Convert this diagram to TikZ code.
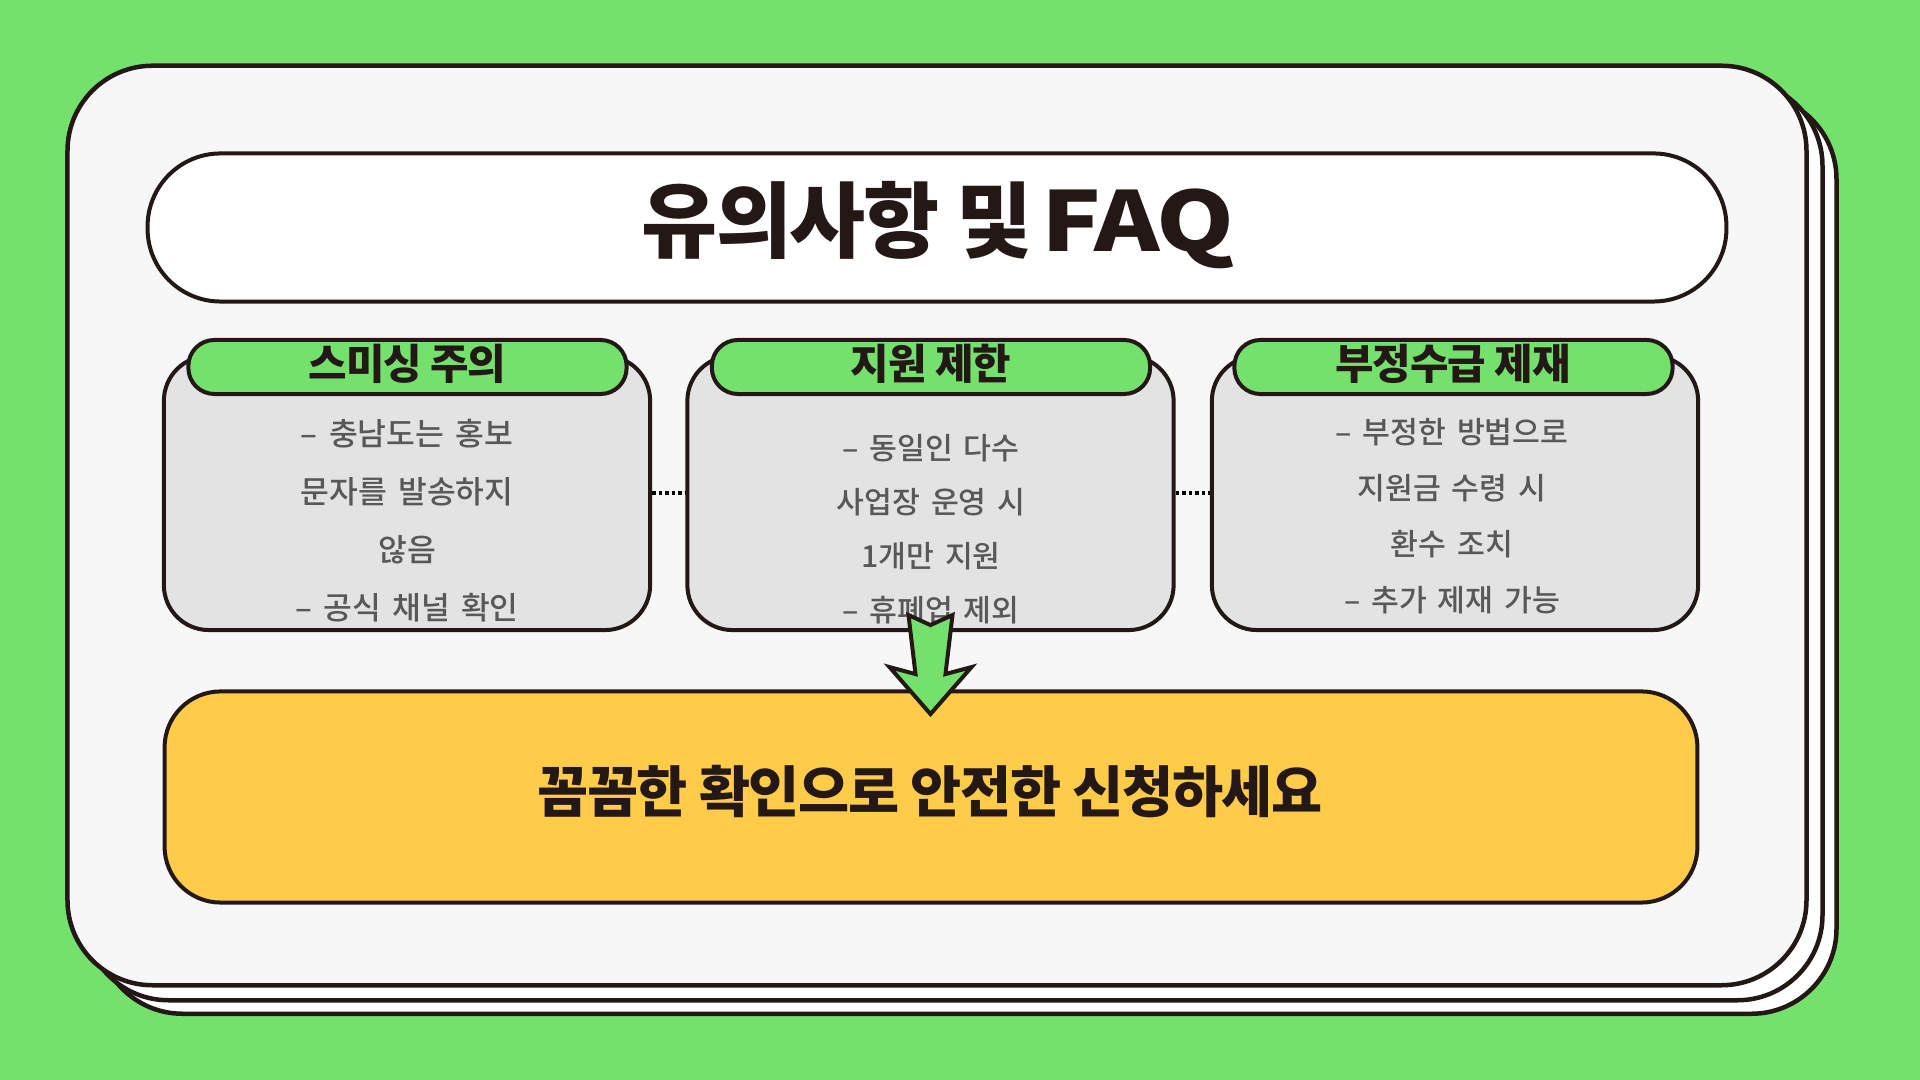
\documentclass[tikz,border=0pt]{standalone}
\usepackage{fontspec}
\usepackage{graphicx}
\usetikzlibrary{calc}
\newfontfamily\krbody[WordSpace=1.6]{Noto Sans CJK KR Medium}
\newfontfamily\krtitle[LetterSpace=-2.5]{Noto Sans CJK KR Black}
\definecolor{bggreen}{HTML}{75E16D}
\definecolor{inkdark}{HTML}{231815}
\definecolor{inkgray}{HTML}{595757}
\definecolor{cardgray}{HTML}{F7F7F7}
\definecolor{boxgray}{HTML}{E3E3E3}
\definecolor{noteyellow}{HTML}{FFCC4A}

\begin{document}
\begin{tikzpicture}[x=0.01cm,y=-0.01cm,
    sheet/.style={draw=inkdark,line width=0.045cm,rounded corners=0.85cm,inner sep=0pt,fill=white},
    boxbody/.style={draw=inkdark,line width=0.04cm,rounded corners=0.45cm,inner sep=0pt,fill=boxgray,
      minimum width=4.86cm,minimum height=2.74cm},
    boxtab/.style={draw=inkdark,line width=0.04cm,rounded corners=0.26cm,inner sep=0pt,fill=bggreen,
      minimum width=4.38cm,minimum height=0.54cm},
    tabtext/.style={text=inkdark,inner sep=0pt,font=\krtitle\fontsize{11.9pt}{13pt}\selectfont},
    bodytext/.style={text=inkgray,inner sep=0pt,align=center},
    dotline/.style={draw=black,line width=0.04cm,dash pattern=on 0.035cm off 0.03cm}]
  \fill[bggreen] (0,0) rectangle (1920,1080);

  \node[sheet,minimum width=17.38cm,minimum height=9.19cm] (sheetback) at (967,554) {};
  \node[sheet,minimum width=17.38cm,minimum height=9.19cm] (sheetmid) at (953,540.5) {};
  \node[sheet,fill=cardgray,minimum width=17.38cm,minimum height=9.19cm] (card) at (937,525.5) {};

  \node[draw=inkdark,line width=0.04cm,rounded corners=0.73cm,inner sep=0pt,fill=white,
    minimum width=15.78cm,minimum height=1.48cm] (titlebar) at (937,227.5) {};
  \node[text=inkdark,inner sep=0pt,font=\krtitle\fontsize{23.5pt}{28pt}\selectfont] (titletext) at (938,225)
    {유의사항 및\hspace{-0.1em} \scalebox{1.2}[1]{FAQ}};

  \node[boxbody] (boxa) at (407,493) {};
  \node[boxbody] (boxb) at (930.5,493) {};
  \node[boxbody] (boxc) at (1455,493) {};
  \draw[dotline] (boxa.east) -- (boxb.west);
  \draw[dotline] (boxb.east) -- (boxc.west);

  \node[boxtab] (taba) at (407.5,367) {};
  \node[boxtab] (tabb) at (931,367) {};
  \node[boxtab] (tabc) at (1453.5,367) {};
  \node[tabtext] (tabtexta) at (407.5,364) {스미싱 주의};
  \node[tabtext] (tabtextb) at (931,364) {지원 제한};
  \node[tabtext] (tabtextc) at (1453,364) {부정수급 제재};

  \node[bodytext,font=\krbody\fontsize{8.9pt}{16.5pt}\selectfont] (bodya) at (407,520.5)
    {– 충남도는 홍보\\문자를 발송하지\\않음\\– 공식 채널 확인};
  \node[bodytext,font=\krbody\fontsize{8.6pt}{15.4pt}\selectfont] (bodyb) at (931,529)
    {– 동일인 다수\\사업장 운영 시\\1개만 지원\\– 휴폐업 제외};
  \node[bodytext,font=\krbody\fontsize{8.6pt}{15.9pt}\selectfont] (bodyc) at (1452,516)
    {– 부정한 방법으로\\지원금 수령 시\\환수 조치\\– 추가 제재 가능};

  \node[draw=inkdark,line width=0.04cm,rounded corners=0.56cm,inner sep=0pt,fill=noteyellow,
    minimum width=15.32cm,minimum height=2.11cm] (notebox) at (931,797) {};
  \node[text=inkdark,inner sep=0pt,font=\krtitle\fontsize{15.8pt}{18pt}\selectfont] (notetext) at (930,792) {꼼꼼한 확인으로 안전한 신청하세요};

  \draw[draw=inkdark,line width=0.04cm,fill=bggreen,shift={(boxb.south)}]
    (-22,-17)--(0,-7)--(22,-17)--(15,42)--(41,35)--(0,82)--(-41,35)--(-15,42)--cycle;
\end{tikzpicture}
\end{document}
